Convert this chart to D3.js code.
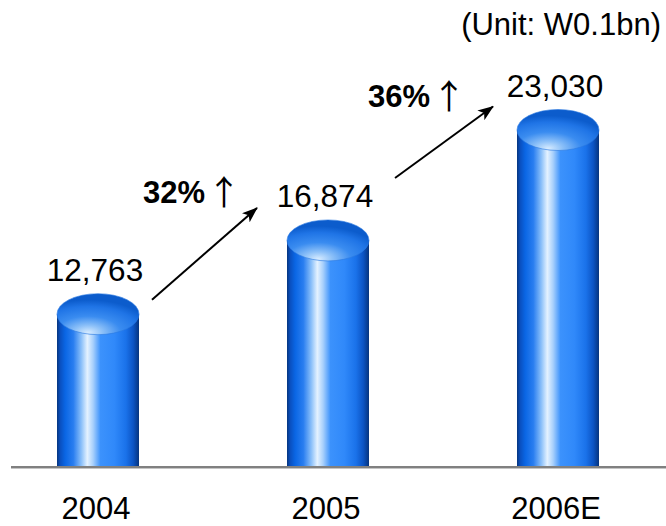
<!DOCTYPE html>
<html>
<head>
<meta charset="utf-8">
<script src="https://cdn.jsdelivr.net/npm/d3@7"></script>
<style>
  html, body { margin: 0; padding: 0; background: #fff; }
  svg { display: block; font-family: "Liberation Sans", Arial, sans-serif; }
</style>
</head>
<body>
<svg id="chart" width="666" height="526"></svg>
<script>
// ---- data ----
const categories = ["2004", "2005", "2006E"];
const values = [12763, 16874, 23030];
const growthLabels = ["32%", "36%"];
const unitLabel = "(Unit: W0.1bn)";

// ---- layout ----
const W = 666, H = 526;
const baseY = 466;
const barW = 82;
const ry = 20.5;
// arrow anchors relative to (bar centre, top of cylinder cap)
const arrowLayout = [
  { sx: 54, sy: 6, ex: -71, ey: -12, lx: -114, ly: -5 },
  { sx: 67, sy: -42, ex: -65, ey: -3, lx: -125, ly: 0 }
];

const svg = d3.select("#chart");
const defs = svg.append("defs");

const x = d3.scalePoint().domain(categories).range([98, 558]);
const y = d3.scaleLinear().domain([4300, 23030]).range([baseY, 130]);

// body gradient (horizontal)
const bodyGrad = defs.append("linearGradient")
  .attr("id", "bodyGrad").attr("x1", "0").attr("x2", "1").attr("y1", "0").attr("y2", "0");
[
  [0, "#06347e"], [0.04, "#0a50c0"], [0.10, "#0a66e4"], [0.20, "#2a7ef0"],
  [0.30, "#8ec2fa"], [0.37, "#e4f2ff"], [0.44, "#a8d0fc"], [0.53, "#3c92fc"],
  [0.70, "#3089fa"], [0.84, "#1a72ea"], [0.93, "#0c54c4"], [1, "#06347e"]
].forEach(([o, c]) => bodyGrad.append("stop").attr("offset", o).attr("stop-color", c));

// cap gradient (radial)
const capGrad = defs.append("radialGradient")
  .attr("id", "capGrad").attr("cx", "0.38").attr("cy", "0.95").attr("r", "0.8")
  .attr("fx", "0.38").attr("fy", "0.95");
[
  [0, "#d6ebff"], [0.22, "#8cc0f8"], [0.5, "#3a8cf0"], [0.8, "#1f74e6"], [1, "#0c5ccc"]
].forEach(([o, c]) => capGrad.append("stop").attr("offset", o).attr("stop-color", c));

// arrow marker
defs.append("marker")
  .attr("id", "arrowHead").attr("viewBox", "0 0 16 12")
  .attr("refX", 15).attr("refY", 6)
  .attr("markerWidth", 16).attr("markerHeight", 12)
  .attr("markerUnits", "userSpaceOnUse").attr("orient", "auto")
  .append("path").attr("d", "M0,0 L16,6 L0,12 L4,6 Z").attr("fill", "#000");

// cylinders
const bars = svg.append("g").selectAll("g.bar")
  .data(categories.map((c, i) => ({ c, v: values[i] })))
  .join("g").attr("class", "bar");

bars.append("rect")
  .attr("x", d => x(d.c) - barW / 2)
  .attr("y", d => y(d.v))
  .attr("width", barW)
  .attr("height", d => baseY - y(d.v))
  .attr("fill", "url(#bodyGrad)");

bars.append("ellipse")
  .attr("cx", d => x(d.c))
  .attr("cy", d => y(d.v))
  .attr("rx", barW / 2)
  .attr("ry", ry)
  .attr("fill", "url(#capGrad)")
  .attr("stroke", "#2a78e0").attr("stroke-width", 0.6);

// value labels
bars.append("text")
  .attr("x", d => x(d.c) - 3)
  .attr("y", d => y(d.v) - ry - 13)
  .attr("text-anchor", "middle")
  .attr("font-size", 31.5)
  .attr("fill", "#000")
  .text(d => d3.format(",")(d.v));

// baseline
svg.append("line").attr("x1", 11).attr("x2", W).attr("y1", baseY + 1).attr("y2", baseY + 1)
  .attr("stroke", "#808080").attr("stroke-width", 2);
svg.append("line").attr("x1", 11).attr("x2", W).attr("y1", baseY + 2.5).attr("y2", baseY + 2.5)
  .attr("stroke", "#c4c4c4").attr("stroke-width", 1);

// category labels
svg.append("g").selectAll("text")
  .data(categories).join("text")
  .attr("x", d => x(d) - 2)
  .attr("y", 519)
  .attr("text-anchor", "middle")
  .attr("font-size", 31)
  .attr("fill", "#000")
  .text(d => d);

// growth arrows + labels
growthLabels.forEach((g, i) => {
  const a = arrowLayout[i];
  const x0 = x(categories[i]) + a.sx;
  const y0 = y(values[i]) - ry + a.sy;
  const x1 = x(categories[i + 1]) + a.ex;
  const y1 = y(values[i + 1]) - ry + a.ey;
  svg.append("line")
    .attr("x1", x0).attr("y1", y0).attr("x2", x1).attr("y2", y1)
    .attr("stroke", "#000").attr("stroke-width", 2)
    .attr("marker-end", "url(#arrowHead)");
  const t = svg.append("text")
    .attr("x", x1 + a.lx).attr("y", y1 + a.ly)
    .attr("font-size", 31).attr("fill", "#000");
  t.append("tspan").attr("font-weight", "bold").text(g);
  t.append("tspan").attr("dx", 2)
    .attr("font-family", "'Noto Sans CJK KR', 'Noto Sans CJK SC', sans-serif")
    .attr("font-size", 34).attr("dy", 2).text("↑");
});

// unit label
svg.append("text")
  .attr("x", 661).attr("y", 35)
  .attr("text-anchor", "end")
  .attr("font-size", 31)
  .attr("fill", "#000")
  .text(unitLabel);
</script>
</body>
</html>
